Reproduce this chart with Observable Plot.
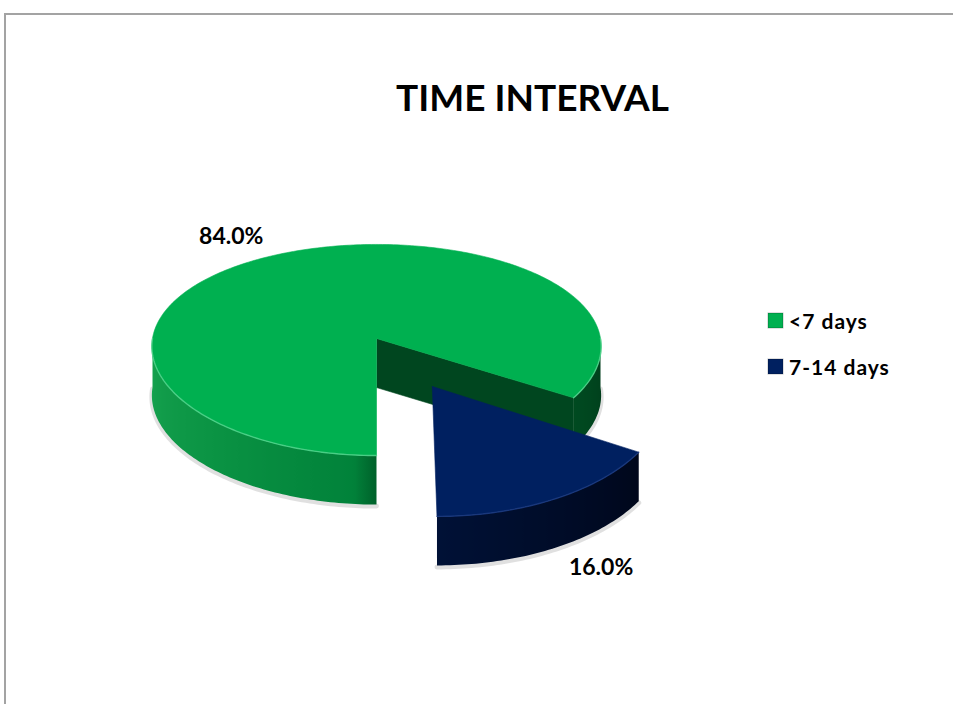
<!DOCTYPE html>
<html><head><meta charset="utf-8">
<script src="https://cdn.jsdelivr.net/npm/d3@7"></script>
<script src="https://cdn.jsdelivr.net/npm/@observablehq/plot@0.6"></script>
<style>
body{margin:0;background:#fff;}
#wrap{position:relative;width:953px;height:704px;overflow:hidden;background:#fff;}
#frame{position:absolute;left:4px;top:13px;width:1000px;height:800px;border-left:2px solid #a3a3a3;border-top:2px solid #a3a3a3;box-sizing:border-box;}
#chart{position:absolute;left:0;top:0;}
#title{position:absolute;left:0;top:78px;width:1065px;text-align:center;font:bold 37px/37px Lato, "Open Sans", sans-serif;color:#000;}
#legend{position:absolute;left:768px;top:297px;}
#legend .lg-swatches{font:bold 21px Lato, "Open Sans", sans-serif !important;letter-spacing:1px;color:#000;margin:0;}
#legend .lg-swatch{height:46px;margin:0;padding:0;display:flex;align-items:center;}
#legend .lg-swatch > svg{margin-right:6px !important;}
#legend .lg-swatch rect{stroke:rgba(0,0,0,0.25);stroke-width:1px;}
</style>
</head><body>
<div id="wrap">
  <div id="frame"></div>
  <div id="chart"></div>
  <div id="title">TIME INTERVAL</div>
  <div id="legend"></div>
</div>
<script>
// ---- data ----
const categories = ["<7 days", "7-14 days"];
const shares = [84.0, 16.0];
const labels = ["84.0%", "16.0%"];
const topColors = ["#00b050", "#002060"];
const explode = [0, 0.5];

// ---- 3D projection helpers (unit pie space) ----
const BX = 0.075, BY = 0.109, DEPTH = 0.47;
const CX = 376, RX = 224, CY = 338, RY = 104.3, W = 953, H = 704;
const proj = (u, v, d = 0) => ({x: u / (1 - BX * v), y: v / (1 - BY * v) + d});
const arcs = d3.pie().sort(null).startAngle(Math.PI).endAngle(3 * Math.PI)(shares);
const mid = i => (arcs[i].startAngle + arcs[i].endAngle) / 2;
const off = i => ({u: explode[i] * Math.sin(mid(i)), v: -explode[i] * Math.cos(mid(i))});
function rim(a, i, d = 0) {
  const o = off(i);
  return proj(Math.sin(a) + o.u, -Math.cos(a) + o.v, d);
}
function ctr(i, d = 0) { const o = off(i); return proj(o.u, o.v, d); }
function arcPts(a0, a1, i, d) {
  const n = Math.max(2, Math.ceil((a1 - a0) / (Math.PI / 180)));
  return d3.range(n + 1).map(k => rim(a0 + (a1 - a0) * k / n, i, d));
}

const wallShade = [
  d3.scaleLinear().domain([0, 0.5, 0.53, 0.75, 1]).range(["#003d1b", "#00612a", "#01823a", "#0b9444", "#17a450"]).clamp(true),
  d3.scaleLinear().domain([0, 0.18, 0.5, 1]).range(["#00040f", "#00071b", "#001136", "#002060"]).clamp(true)
];
const faceColors = ["#00461f", "#000c2a"];
const rimColors = ["#55d48f", "#1a3a80"];

const gradients = [];
const marks = [];
// soft shadow under the front rims
arcs.forEach((arc, i) => {
  for (let k = 0; k <= 1; k++) {
    const lo = Math.max(arc.startAngle, Math.PI / 2 + 2 * Math.PI * k);
    const hi = Math.min(arc.endAngle, 3 * Math.PI / 2 + 2 * Math.PI * k);
    if (hi <= lo) continue;
    marks.push(Plot.line(arcPts(lo, hi, i, DEPTH), {x: "x", y: "y", stroke: "#000", strokeOpacity: 0.12, strokeWidth: 5, dy: 1.5}));
  }
});
arcs.forEach((arc, i) => {
  const a0 = arc.startAngle, a1 = arc.endAngle;
  const rims = [];
  for (let k = 0; k <= 1; k++) {
    const lo = Math.max(a0, Math.PI / 2 + 2 * Math.PI * k);
    const hi = Math.min(a1, 3 * Math.PI / 2 + 2 * Math.PI * k);
    if (hi <= lo) continue;
    const topPts = arcPts(lo, hi, i, 0), botPts = arcPts(lo, hi, i, DEPTH);
    const id = `gw${i}-${k}`;
    const n = topPts.length;
    const stops = topPts.map((p, j) => {
      const th = (lo + (hi - lo) * j / (n - 1)) % (2 * Math.PI);
      return {px: CX + RX * p.x, color: wallShade[i]((th - Math.PI / 2) / Math.PI)};
    });
    gradients.push({id, stops});
    marks.push(Plot.line([...topPts, ...botPts.reverse()], {x: "x", y: "y", fill: `url(#${id})`, stroke: "none"}));
    topPts.forEach(p => rims.push({...p, id: `r${i}-${k}`}));
  }
  // cut faces
  const faces = [];
  [[a0, a0 - Math.PI / 2], [a1, a1 + Math.PI / 2]].forEach(([a, nrm], f) => {
    if (-Math.cos(nrm) > 0.01) {
      [ctr(i), rim(a, i), rim(a, i, DEPTH), ctr(i, DEPTH)].forEach(p => faces.push({...p, id: `f${i}-${f}`}));
    }
  });
  marks.push(Plot.line(faces, {x: "x", y: "y", z: "id", fill: faceColors[i], stroke: faceColors[i], strokeWidth: 0.6}));
  // top face
  const top = [ctr(i), ...arcPts(a0, a1, i, 0), ctr(i)];
  marks.push(Plot.line(top, {x: "x", y: "y", fill: topColors[i], stroke: topColors[i], strokeWidth: 0.6}));
  marks.push(Plot.line(rims, {x: "x", y: "y", z: "id", stroke: rimColors[i], strokeWidth: 1.4, strokeOpacity: 0.8}));
});

// data labels
const lab0 = [{...rim(mid(0), 0, 0), label: labels[0]}];
const lab1 = [{...rim(mid(1), 1, DEPTH), label: labels[1]}];
const textStyle = {x: "x", y: "y", text: "label", fontFamily: "Lato, 'Open Sans', sans-serif", fontWeight: "bold", fontSize: 23, fill: "#000"};
marks.push(Plot.text(lab0, {...textStyle, dx: -44, dy: -18}));
marks.push(Plot.text(lab1, {...textStyle, dx: 45, dy: 20}));

const chart = Plot.plot({
  width: W, height: H, margin: 0,
  x: {domain: [-CX / RX, (W - CX) / RX], range: [0, W], axis: null},
  y: {domain: [-CY / RY, (H - CY) / RY], range: [0, H], axis: null},
  style: {background: "transparent", overflow: "visible"},
  marks
});
// gradient definitions for the shaded side walls
const NS = "http://www.w3.org/2000/svg";
const defs = document.createElementNS(NS, "defs");
gradients.forEach(g => {
  const xs = g.stops.map(s => s.px);
  const x1 = d3.min(xs), x2 = d3.max(xs);
  const lg = document.createElementNS(NS, "linearGradient");
  lg.setAttribute("id", g.id);
  lg.setAttribute("gradientUnits", "userSpaceOnUse");
  lg.setAttribute("x1", x1); lg.setAttribute("x2", x2);
  lg.setAttribute("y1", 0); lg.setAttribute("y2", 0);
  g.stops.slice().sort((a, b) => a.px - b.px).forEach(s => {
    const st = document.createElementNS(NS, "stop");
    st.setAttribute("offset", x2 > x1 ? (s.px - x1) / (x2 - x1) : 0);
    st.setAttribute("stop-color", s.color);
    lg.appendChild(st);
  });
  defs.appendChild(lg);
});
chart.insertBefore(defs, chart.firstChild);
document.getElementById("chart").appendChild(chart);

const legend = Plot.legend({
  color: {type: "ordinal", domain: categories, range: topColors},
  columns: 1, swatchSize: 15, className: "lg"
});
document.getElementById("legend").appendChild(legend);
</script>
</body></html>
